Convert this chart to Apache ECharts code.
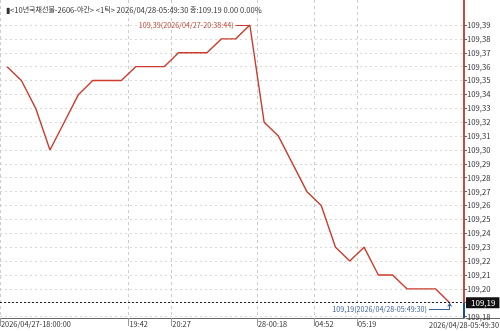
<!DOCTYPE html>
<html>
<head>
<meta charset="utf-8">
<script src="https://cdn.jsdelivr.net/npm/echarts@6/dist/echarts.min.js"></script>
<style>html,body{margin:0;padding:0;background:#fff}#c{width:500px;height:331px}</style>
</head>
<body>
<div id="c"></div>
<script>
// ---- data ----
const titleParts = ['▮<10', '년국채선물', '-2606-', '야간', '> <1', '틱', '> 2026/04/28-05:49:30 ', '종', ':109.19 0.00 0.00%'];
const values = [109.36,109.35,109.33,109.30,109.32,109.34,109.35,109.35,109.35,109.36,
                109.36,109.36,109.37,109.37,109.37,109.38,109.38,109.39,109.32,109.31,
                109.29,109.27,109.26,109.23,109.22,109.23,109.21,109.21,109.20,109.20,
                109.20,109.19];
const xTickIndex = [0, 9, 12, 18, 22, 25];
const xTickLabels = ['2026/04/27-18:00:00','19:42','20:27','28-00:18','04:52','05:19'];
const lastTimeLabel = '2026/04/28-05:49:30';
const maxTime = '2026/04/27-20:38:44';
const lastTime = '2026/04/28-05:49:30';
const yTickValues = [109.18,109.19,109.20,109.21,109.22,109.23,109.24,109.25,109.26,109.27,
                     109.28,109.29,109.30,109.31,109.32,109.33,109.34,109.35,109.36,109.37,
                     109.38,109.39];
const yMin = 109.179, yMax = 109.408;

// ---- derived ----
const fmt = v => v.toFixed(2).replace('.', ',');
const seriesData = values.map((v, i) => [i, v]);
const maxVal = Math.max(...values);
const maxIdx = values.indexOf(maxVal);
const lastIdx = values.length - 1;
const lastVal = values[lastIdx];
const xCustom = xTickIndex.map(i => i - 0.5);
const labelMap = {};
xTickIndex.forEach((i, k) => { labelMap[(i - 0.5).toFixed(1)] = xTickLabels[k]; });
const isKo = s => /[\uac00-\ud7a3]/.test(s);
const titleRich = titleParts.map(p => (isKo(p) ? '{k|' : '{a|') + p + '}').join('');

const FONT = "'Liberation Sans Narrow','Noto Sans CJK KR',sans-serif";
const KFONT = "'Noto Sans CJK KR',sans-serif";
const RED = '#cc3b2b';
const BLUE = '#3c5f99';
const FS = 7.4;

const chart = echarts.init(document.getElementById('c'), null, {renderer: 'canvas'});
chart.setOption({
  animation: false,
  title: {
    text: titleRich, left: 1, top: 1,
    textStyle: {
      fontSize: FS, fontWeight: 'normal', color: '#333', fontFamily: FONT,
      rich: {
        a: {fontSize: 7.6, color: '#333', fontFamily: FONT},
        k: {fontSize: 7, color: '#333', fontFamily: KFONT}
      }
    }
  },
  grid: [
    {left: 0, right: 36, top: 0, bottom: 13, containLabel: false, outerBoundsMode: 'none'},
    {left: 466, right: 0, top: 0, bottom: 13, containLabel: false, outerBoundsMode: 'none'}
  ],
  xAxis: [{
    type: 'value', gridIndex: 0,
    min: -0.5, max: values.length,
    axisLine: {show: true, onZero: false, lineStyle: {color: '#666', width: 1}},
    axisTick: {show: true, customValues: xCustom, length: 8, inside: false, lineStyle: {color: '#999'}},
    axisLabel: {
      customValues: xCustom, align: 'left', margin: 2, padding: [0,0,0,1],
      fontSize: FS, color: '#333', fontFamily: FONT,
      formatter: v => labelMap[v.toFixed(1)] || ''
    },
    splitLine: {show: true, lineStyle: {color: '#ccc', type: [3, 3], width: 1}},
    name: lastTimeLabel, nameLocation: 'end', nameGap: 35,
    nameTextStyle: {align: 'right', verticalAlign: 'top', padding: [3,0,0,0], fontSize: FS, color: '#333', fontFamily: FONT}
  }, {
    type: 'value', gridIndex: 1, min: 0, max: 1,
    axisLine: {show: true, onZero: false, lineStyle: {color: '#666', width: 1}},
    axisTick: {show: false}, axisLabel: {show: false}, splitLine: {show: false}
  }],
  yAxis: [{
    type: 'value', gridIndex: 0, position: 'right',
    min: yMin, max: yMax,
    axisLine: {show: true, onZero: false, lineStyle: {color: RED, width: 1.5}},
    axisTick: {show: true, customValues: yTickValues, length: 3, lineStyle: {color: '#666'}},
    axisLabel: {
      customValues: yTickValues, margin: 3, fontSize: FS + 0.3, color: '#333', fontFamily: FONT,
      formatter: v => fmt(v)
    },
    splitLine: {show: true, lineStyle: {color: '#d8d8d8', type: [2, 3], width: 1}}
  }, {
    type: 'value', gridIndex: 1, show: false, min: 0, max: 1
  }],
  series: [{
    type: 'line', xAxisIndex: 0, yAxisIndex: 0,
    data: seriesData, symbol: 'none', clip: false,
    lineStyle: {color: RED, width: 1.4},
    markLine: {
      silent: true, symbol: ['none', 'none'], animation: false,
      data: [
        [{coord: [-0.5, lastVal], lineStyle: {color: '#222', type: [2, 2], width: 1},
          label: {show: true, position: 'end', distance: 2, formatter: fmt(lastVal),
                  backgroundColor: '#111', color: '#fff', padding: [2, 4, 1, 5],
                  fontSize: 8, fontFamily: FONT}},
         {coord: [values.length, lastVal]}],
        [{coord: [values.length, lastVal], lineStyle: {color: '#1a4d99', type: 'solid', width: 2},
          label: {show: false}},
         {coord: [values.length, yMin]}],
        [{coord: [maxIdx - 1, maxVal], lineStyle: {color: RED, type: 'solid', width: 1},
          label: {show: true, position: 'start', distance: 2,
                  formatter: fmt(maxVal) + '(' + maxTime + ')',
                  color: '#b94433', fontSize: 7.2, fontFamily: FONT}},
         {coord: [maxIdx, maxVal]}],
        [{coord: [lastIdx - 1.45, lastVal - 0.005], lineStyle: {color: BLUE, type: 'solid', width: 1},
          label: {show: true, position: 'start', distance: 2,
                  formatter: fmt(lastVal) + '(' + lastTime + ')',
                  color: BLUE, fontSize: 7.2, fontFamily: FONT}},
         {coord: [lastIdx, lastVal - 0.005]}],
        [{coord: [lastIdx, lastVal - 0.005], lineStyle: {color: BLUE, type: 'solid', width: 1},
          symbol: 'none', label: {show: false}},
         {coord: [lastIdx, lastVal], symbol: 'arrow', symbolSize: 4}]
      ]
    }
  }]
});

// red price-axis segment above the current price, positioned through the library's own scales
const pTop = chart.convertToPixel({xAxisIndex: 0, yAxisIndex: 0}, [values.length, yMax]);
const pCur = chart.convertToPixel({xAxisIndex: 0, yAxisIndex: 0}, [values.length, lastVal]);
chart.setOption({
  graphic: [{
    type: 'line', z: 100, silent: true,
    shape: {x1: pTop[0], y1: pTop[1], x2: pCur[0], y2: pCur[1]},
    style: {stroke: RED, lineWidth: 1.5}
  }]
});
</script>
</body>
</html>
